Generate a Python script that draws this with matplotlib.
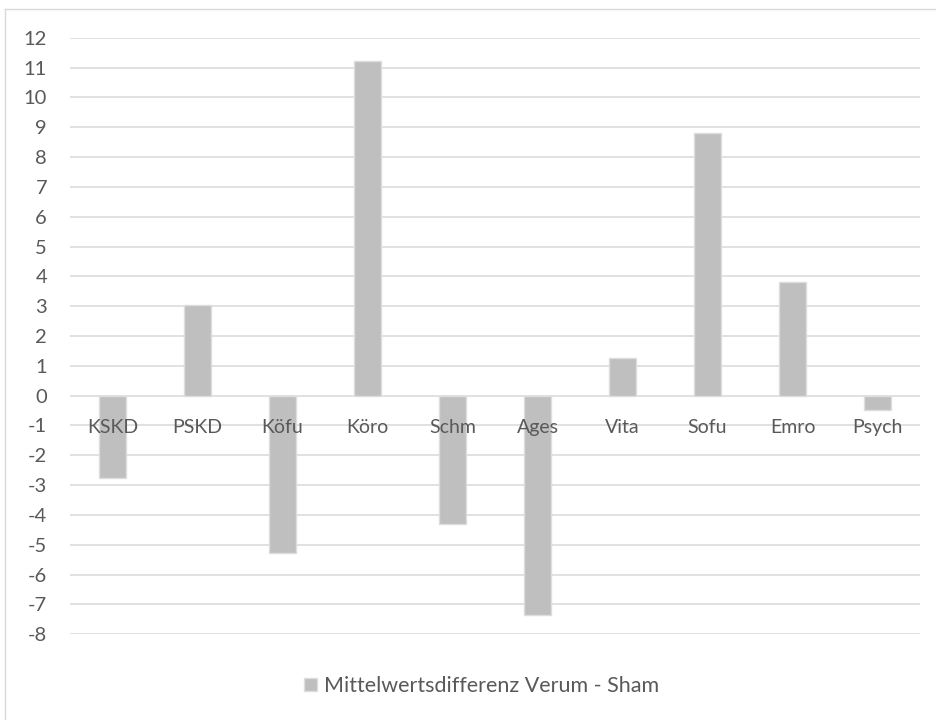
import matplotlib
matplotlib.use("Agg")
import matplotlib.pyplot as plt
from matplotlib.lines import Line2D

categories = ["KSKD", "PSKD", "Köfu", "Köro", "Schm", "Ages", "Vita", "Sofu", "Emro", "Psych"]
values = [-2.77, 3.03, -5.28, 11.23, -4.29, -7.35, 1.25, 8.79, 3.82, -0.48]
series_name = "Mittelwertsdifferenz Verum - Sham"
yticks = list(range(-8, 13))

plt.rcParams['font.family'] = ['Lato', 'DejaVu Sans']
text_color = "#595959"
grid_color = "#d9d9d9"
bar_color = "#bfbfbf"

W, H = 937, 720
fig = plt.figure(figsize=(W / 100, H / 100), dpi=100)
ax = fig.add_axes([70 / W, 1 - 634.3 / H, (920 - 70) / W, (634.3 - 37.7) / H])

x = list(range(len(categories)))
ax.bar(x, values, width=0.32, color=bar_color, edgecolor="#dddddd", linewidth=1.0,
       zorder=2, label=series_name)

ax.set_xlim(-0.5, len(categories) - 0.5)
ax.set_ylim(-8, 12)
ax.set_yticks(yticks)
ax.set_yticklabels([str(t) for t in yticks])
ax.yaxis.grid(True, color=grid_color, linewidth=1.1)
ax.set_axisbelow(True)

ax.set_xticks(x)
ax.set_xticklabels(categories)
ax.spines['bottom'].set_position(('data', 0))
for s in ['top', 'right', 'left', 'bottom']:
    ax.spines[s].set_visible(False)
ax.tick_params(axis='x', length=0, pad=16.5, labelsize=14, labelcolor=text_color)
ax.tick_params(axis='y', length=0, pad=16.5, labelsize=14.5, labelcolor=text_color)
ax.xaxis.set_zorder(3)

leg = fig.legend(loc='center', bbox_to_anchor=(481.5 / W, 1 - 686 / H), frameon=False,
                 fontsize=15.5, handlelength=0.6, handleheight=0.6, handletextpad=0.3,
                 labelcolor=text_color)

# chart area border (cropped at right/bottom)
fig.add_artist(Line2D([5.5 / W, 5.5 / W], [0, 1 - 8.5 / H], transform=fig.transFigure,
                      color=grid_color, linewidth=1.0))
fig.add_artist(Line2D([5.5 / W, 1], [1 - 8.5 / H, 1 - 8.5 / H], transform=fig.transFigure,
                      color=grid_color, linewidth=1.0))

fig.savefig("out.png", dpi=100, facecolor="white")
